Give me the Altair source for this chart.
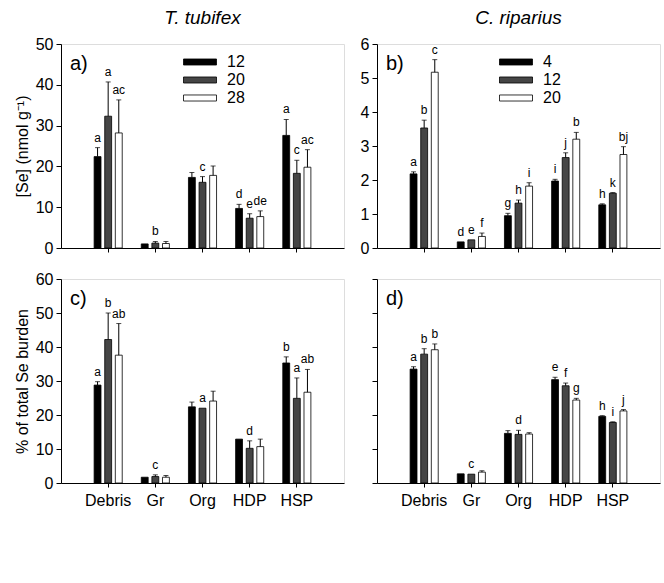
import altair as alt
import pandas as pd

FONT = "Liberation Sans"

categories = ["Debris", "Gr", "Org", "HDP", "HSP"]

# ---- T. tubifex: tissue [Se] (nmol/g) by fraction, three exposure groups
tt_groups = ["12", "20", "28"]
tt_se_12 = [22.4, 1.0, 17.3, 9.7, 27.6]
tt_se_12_err = [2.2, 0.0, 1.2, 1.0, 3.9]
tt_se_20 = [32.3, 1.2, 16.1, 7.3, 18.3]
tt_se_20_err = [8.4, 0.4, 1.4, 1.1, 3.2]
tt_se_28 = [28.2, 1.1, 17.8, 7.7, 19.8]
tt_se_28_err = [8.1, 0.5, 2.3, 1.4, 4.3]
tt_se_12_sig = ["a", "", "", "d", "a"]
tt_se_20_sig = ["a", "b", "c", "e", "c"]
tt_se_28_sig = ["ac", "", "", "de", "ac"]

# ---- C. riparius: tissue [Se] (nmol/g)
cr_groups = ["4", "12", "20"]
cr_se_4 = [2.18, 0.18, 0.95, 1.97, 1.27]
cr_se_4_err = [0.06, 0.0, 0.07, 0.05, 0.03]
cr_se_12 = [3.53, 0.24, 1.32, 2.66, 1.61]
cr_se_12_err = [0.23, 0.0, 0.09, 0.14, 0.02]
cr_se_20 = [5.17, 0.34, 1.82, 3.20, 2.75]
cr_se_20_err = [0.37, 0.10, 0.10, 0.20, 0.23]
cr_se_4_sig = ["a", "d", "g", "i", "h"]
cr_se_12_sig = ["b", "e", "h", "j", "k"]
cr_se_20_sig = ["c", "f", "i", "b", "bj"]

# ---- T. tubifex: % of total Se burden
tt_pct_12 = [28.8, 1.7, 22.4, 12.9, 35.3]
tt_pct_12_err = [1.0, 0.0, 1.4, 0.0, 1.8]
tt_pct_20 = [42.2, 1.9, 22.0, 10.2, 24.9]
tt_pct_20_err = [7.8, 0.5, 0.0, 2.2, 6.0]
tt_pct_28 = [37.6, 1.7, 24.1, 10.7, 26.7]
tt_pct_28_err = [9.3, 0.5, 2.9, 2.2, 6.7]
tt_pct_12_sig = ["a", "", "", "", "b"]
tt_pct_20_sig = ["b", "c", "a", "d", "a"]
tt_pct_28_sig = ["ab", "", "", "", "ab"]

# ---- C. riparius: % of total Se burden
cr_pct_4 = [33.5, 2.7, 14.6, 30.4, 19.6]
cr_pct_4_err = [0.7, 0.0, 0.8, 0.7, 0.2]
cr_pct_12 = [37.9, 2.6, 14.3, 28.6, 17.8]
cr_pct_12_err = [1.6, 0.0, 1.2, 0.8, 0.2]
cr_pct_20 = [39.2, 3.2, 14.4, 24.4, 21.2]
cr_pct_20_err = [1.7, 0.4, 0.4, 0.5, 0.4]
cr_pct_4_sig = ["a", "", "", "e", "h"]
cr_pct_12_sig = ["b", "c", "d", "f", "i"]
cr_pct_20_sig = ["b", "", "", "g", "j"]

BAR_COLORS = ["#000000", "#454545", "#ffffff"]
W, H = 283, 204

# Wide flat legend swatch: the path runs 3 units either side of the centre,
# so the drawn bar is three times wider than the symbol's layout size.
SWATCH = "M-3,-0.55L3,-0.55L3,0.55L-3,0.55Z"


def build_frame(groups, series):
    rows = []
    for idx, (g, (vals, errs, sigs)) in enumerate(zip(groups, series)):
        for cat, v, e, s in zip(categories, vals, errs, sigs):
            rows.append({"cat": cat, "grp": g, "idx": idx, "value": v,
                         "err": e, "top": v + e, "sig": s})
    return pd.DataFrame(rows)


def panel(df, groups, ymax, ystep, tag, y_title, show_ylabels, show_xlabels,
          show_legend, title=None):
    x = alt.X("cat:N", sort=categories,
              scale=alt.Scale(paddingInner=0.404, paddingOuter=0.702),
              axis=alt.Axis(title=None, labels=show_xlabels, ticks=True,
                            tickSize=4, labelFontSize=16, labelFont=FONT,
                            labelColor="black", labelPadding=5, labelAngle=0,
                            domainColor="black", tickColor="black"))
    xo = alt.XOffset("idx:O", scale=alt.Scale(paddingInner=0.35, paddingOuter=0))
    yscale = alt.Scale(domain=[0, ymax], nice=False)
    yaxis = alt.Axis(title=y_title, values=list(range(0, ymax + 1, ystep)),
                     labels=show_ylabels, tickSize=5, labelFontSize=16,
                     labelFont=FONT, labelColor="black", labelPadding=3,
                     titleFont=FONT, titleFontSize=16, titleFontWeight="normal",
                     titleColor="black", titlePadding=5, grid=False,
                     domainColor="black", tickColor="black")
    if show_legend:
        legend = alt.Legend(orient="none", legendX=131, legendY=10, title=None,
                            symbolType=SWATCH, symbolSize=121,
                            symbolStrokeColor="black", symbolStrokeWidth=0.8,
                            labelFontSize=16, labelFont=FONT,
                            labelColor="black", rowPadding=2, labelOffset=19)
    else:
        legend = None
    color = alt.Color("grp:N", scale=alt.Scale(domain=groups, range=BAR_COLORS),
                      legend=legend)

    base = alt.Chart(df)
    bars = base.mark_bar(stroke="black", strokeWidth=0.8).encode(
        x=x, xOffset=xo,
        y=alt.Y("value:Q", scale=yscale, axis=yaxis),
        color=color)
    with_err = base.transform_filter("datum.err > 0")
    stems = with_err.mark_rule(color="black", strokeWidth=1).encode(
        x=x, xOffset=xo,
        y=alt.Y("value:Q", scale=yscale, axis=yaxis), y2="top:Q")
    caps = with_err.mark_tick(color="black", thickness=1, size=5,
                              orient="horizontal").encode(
        x=x, xOffset=xo, y=alt.Y("top:Q", scale=yscale, axis=yaxis))
    sig = base.transform_filter("datum.sig != ''").mark_text(
        baseline="bottom", dy=-3, fontSize=12, font=FONT, color="black").encode(
        x=x, xOffset=xo, y=alt.Y("top:Q", scale=yscale, axis=yaxis),
        text="sig:N")
    label = alt.Chart(pd.DataFrame({"t": [tag]})).mark_text(
        align="left", baseline="top", fontSize=20, font=FONT,
        color="black").encode(x=alt.value(9), y=alt.value(10), text="t:N")

    layer = alt.layer(bars, stems, caps, sig, label).properties(width=W, height=H)
    if title:
        layer = layer.properties(title=alt.Title(
            title, fontSize=19, font=FONT, fontStyle="italic",
            fontWeight="normal", color="black", offset=8))
    return layer


df_a = build_frame(tt_groups, [(tt_se_12, tt_se_12_err, tt_se_12_sig),
                               (tt_se_20, tt_se_20_err, tt_se_20_sig),
                               (tt_se_28, tt_se_28_err, tt_se_28_sig)])
df_b = build_frame(cr_groups, [(cr_se_4, cr_se_4_err, cr_se_4_sig),
                               (cr_se_12, cr_se_12_err, cr_se_12_sig),
                               (cr_se_20, cr_se_20_err, cr_se_20_sig)])
df_c = build_frame(tt_groups, [(tt_pct_12, tt_pct_12_err, tt_pct_12_sig),
                               (tt_pct_20, tt_pct_20_err, tt_pct_20_sig),
                               (tt_pct_28, tt_pct_28_err, tt_pct_28_sig)])
df_d = build_frame(cr_groups, [(cr_pct_4, cr_pct_4_err, cr_pct_4_sig),
                               (cr_pct_12, cr_pct_12_err, cr_pct_12_sig),
                               (cr_pct_20, cr_pct_20_err, cr_pct_20_sig)])

pa = panel(df_a, tt_groups, 50, 10, "a)", "[Se] (nmol g\u207b\u00b9)",
           True, False, True, title="T. tubifex")
pb = panel(df_b, cr_groups, 6, 1, "b)", None, True, False, True,
           title="C. riparius")
pc = panel(df_c, tt_groups, 60, 10, "c)", "% of total Se burden",
           True, True, False)
pd_ = panel(df_d, cr_groups, 60, 10, "d)", None, False, True, False)

chart = alt.concat(pa, pb, pc, pd_, columns=2, bounds="flush",
                   spacing={"row": 31, "column": 33}).resolve_scale(
    color="independent", y="independent", x="independent",
    xOffset="independent").configure_view(
    stroke="black", strokeWidth=1).configure(
    padding={"left": 13, "top": 8, "right": 2, "bottom": 5},
    background="white")

chart.save("out.html", embed_options={"renderer": "svg", "actions": False})
